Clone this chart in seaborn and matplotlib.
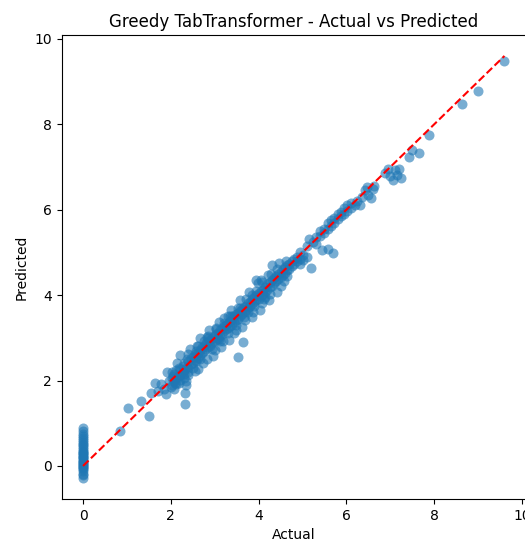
import numpy as np
import pandas as pd
import matplotlib
matplotlib.use("Agg")
import matplotlib.pyplot as plt
import seaborn as sns

# Valores (aproximados)
zero_pred = [-0.28, -0.22, -0.18, -0.12, -0.08, -0.05, -0.02, 0.0, 0.03, 0.05, 0.08,
             0.1, 0.12, 0.15, 0.18, 0.2, 0.22, 0.25, 0.28, 0.3, 0.33, 0.36, 0.4,
             0.44, 0.48, 0.52, 0.56, 0.6, 0.65, 0.7, 0.76, 0.82, 0.88]

low_actual = [0.85, 1.03, 1.5, 1.32, 1.55, 1.64, 1.7, 1.78, 1.85, 1.9, 1.95, 2.0,
              2.05, 2.1, 2.33, 2.33, 2.35, 2.3]
low_pred = [0.82, 1.36, 1.17, 1.52, 1.7, 1.94, 1.75, 1.92, 1.8, 1.68, 2.0, 1.85,
            2.1, 1.95, 1.45, 1.71, 1.9, 2.05]

mid_actual = [2.02, 2.02, 2.02, 2.08, 2.08, 2.12, 2.12, 2.12, 2.18, 2.18,
              2.22, 2.22, 2.22, 2.27, 2.27, 2.31, 2.31, 2.31, 2.36, 2.36,
              2.4, 2.4, 2.4, 2.45, 2.45, 2.5, 2.5, 2.5, 2.54, 2.54,
              2.58, 2.58, 2.58, 2.63, 2.63, 2.67, 2.67, 2.67, 2.72, 2.72,
              2.76, 2.76, 2.76, 2.8, 2.8, 2.85, 2.85, 2.85, 2.9, 2.9,
              2.94, 2.94, 2.94, 2.98, 2.98, 3.03, 3.03, 3.03, 3.08, 3.08,
              3.12, 3.12, 3.12, 3.17, 3.17, 3.21, 3.21, 3.21, 3.26, 3.26,
              3.3, 3.3, 3.3, 3.35, 3.35, 3.4, 3.4, 3.4, 3.44, 3.44,
              3.48, 3.48, 3.48, 3.53, 3.53, 3.58, 3.58, 3.58, 3.62, 3.62,
              3.67, 3.67, 3.67, 3.72, 3.72, 3.76, 3.76, 3.76, 3.81, 3.81,
              3.86, 3.86, 3.86, 3.9, 3.9, 3.95, 3.95, 3.95, 4.0, 4.0,
              4.05, 4.05, 4.05, 4.1, 4.1, 4.15, 4.15, 4.15, 4.2, 4.2,
              4.25, 4.25, 4.3, 4.3, 4.3, 4.35, 4.35, 4.4, 4.4, 4.45, 4.45,
              4.5, 4.5, 4.55, 4.55, 4.6, 4.6, 4.65, 4.65, 4.65, 4.7, 4.7,
              4.75, 4.75, 4.8, 4.8, 4.88, 4.88, 4.95, 4.95, 4.95, 5.02, 5.02,
              3.54, 3.65, 2.6, 2.85, 3.1, 3.35, 3.9, 4.12]
mid_pred = [2.05, 1.9, 2.2, 2.15, 1.98, 2.25, 2.05, 1.92, 2.1, 2.3,
            2.28, 2.12, 2.02, 2.35, 2.2, 2.4, 2.25, 2.15, 2.32, 2.5,
            2.45, 2.3, 2.2, 2.52, 2.38, 2.55, 2.42, 2.3, 2.62, 2.48,
            2.58, 2.7, 2.45, 2.65, 2.52, 2.72, 2.6, 2.5, 2.78, 2.65,
            2.8, 2.7, 2.92, 2.75, 2.88, 2.9, 2.78, 3.0, 2.95, 2.82,
            3.0, 2.88, 2.75, 3.05, 2.92, 3.1, 2.95, 3.2, 3.12, 3.0,
            3.18, 3.05, 2.92, 3.22, 3.1, 3.28, 3.15, 3.35, 3.3, 3.2,
            3.35, 3.22, 3.12, 3.4, 3.28, 3.45, 3.3, 3.52, 3.5, 3.38,
            3.55, 3.42, 3.3, 3.58, 3.45, 3.62, 3.5, 3.7, 3.68, 3.55,
            3.72, 3.6, 3.48, 3.75, 3.65, 3.82, 3.7, 3.6, 3.85, 3.75,
            3.9, 3.8, 4.0, 3.95, 3.85, 4.0, 3.88, 4.35, 4.05, 3.92,
            4.1, 3.98, 4.36, 4.12, 4.02, 4.2, 4.08, 3.95, 4.25, 4.12,
            4.3, 4.18, 4.35, 4.22, 4.71, 4.4, 4.28, 4.45, 4.32, 4.5, 4.38,
            4.55, 4.42, 4.6, 4.48, 4.65, 4.52, 4.7, 4.58, 4.45, 4.72, 4.62,
            4.8, 4.68, 4.85, 4.72, 4.9, 4.8, 5.0, 4.85, 4.72, 4.95, 4.82,
            2.55, 2.9, 2.82, 3.05, 2.98, 3.52, 3.75, 3.92]

# puntos del borde de la banda (mas dispersos)
edge_actual = [1.92, 2.13, 2.21, 2.38, 2.44, 2.61, 2.66, 2.83, 2.87, 3.04,
               3.09, 3.22, 3.31, 3.37, 3.52, 3.57, 3.71, 3.78, 3.93, 3.98,
               4.07, 4.22, 4.28, 4.41, 4.47, 4.62,
               2.07, 2.19, 2.34, 2.39, 2.56, 2.62, 2.73, 2.82, 2.96, 3.01,
               3.14, 3.19, 3.33, 3.43, 3.49, 3.63, 3.69, 3.84, 3.88, 4.03,
               4.08, 4.23, 4.27, 4.42, 4.52, 4.58]
edge_pred = [2.2, 2.4, 2.6, 2.62, 2.75, 2.82, 3.0, 3.02, 3.18, 3.22,
             3.38, 3.46, 3.5, 3.66, 3.7, 3.88, 3.9, 4.08, 4.1, 4.28,
             4.3, 4.48, 4.5, 4.62, 4.75, 4.8,
             1.8, 1.95, 2.0, 2.12, 2.22, 2.28, 2.42, 2.5, 2.58, 2.72,
             2.78, 2.92, 2.96, 3.12, 3.18, 3.26, 3.42, 3.48, 3.6, 3.66,
             3.82, 3.88, 4.02, 4.08, 4.22, 4.32]

high_actual = [5.1, 5.1, 5.2, 5.25, 5.15, 5.3, 5.3, 5.4, 5.4, 5.45, 5.5, 5.5,
               5.58, 5.58, 5.58, 5.65, 5.65, 5.7, 5.72, 5.72, 5.8, 5.8, 5.88,
               5.88, 5.95, 5.95, 6.02, 6.02, 6.1, 6.1, 6.2, 6.25, 6.3, 6.35,
               6.42, 6.48, 6.5, 6.55, 6.6, 6.62, 6.88, 6.95, 7.0, 7.05, 7.1,
               7.15, 7.2, 7.25, 7.42, 7.49, 7.65, 7.88, 8.63, 9.0, 9.6]
high_pred = [5.15, 4.9, 4.63, 5.25, 5.32, 5.35, 5.2, 5.5, 5.38, 5.05, 5.55, 5.45,
             5.7, 5.55, 5.08, 5.75, 5.62, 4.98, 5.8, 5.68, 5.9, 5.78, 5.95,
             5.85, 6.05, 5.9, 6.1, 5.98, 6.15, 6.05, 6.12, 6.2, 6.1, 6.3,
             6.45, 6.52, 6.35, 6.28, 6.48, 6.55, 6.85, 6.95, 6.78, 6.7, 6.92,
             6.82, 6.95, 6.75, 7.24, 7.4, 7.33, 7.75, 8.48, 8.78, 9.48]

actual = [0.0] * len(zero_pred) + low_actual + mid_actual + edge_actual + high_actual
predicted = zero_pred + low_pred + mid_pred + edge_pred + high_pred
df = pd.DataFrame({"Actual": actual, "Predicted": predicted})

fig = plt.figure(figsize=(5.25, 5.41), dpi=100)
ax = fig.add_axes([0.118, 0.0776, 0.883, 0.858])

sns.scatterplot(data=df, x="Actual", y="Predicted", ax=ax, alpha=0.6,
                s=52, color="#1f77b4", linewidth=0)
lims = [min(actual), max(actual)]
ax.plot(lims, lims, "r--", lw=1.5)

ax.set_xlabel("Actual")
ax.set_ylabel("Predicted")
ax.set_title("Greedy TabTransformer - Actual vs Predicted")

fig.savefig("out.png", dpi=100)
